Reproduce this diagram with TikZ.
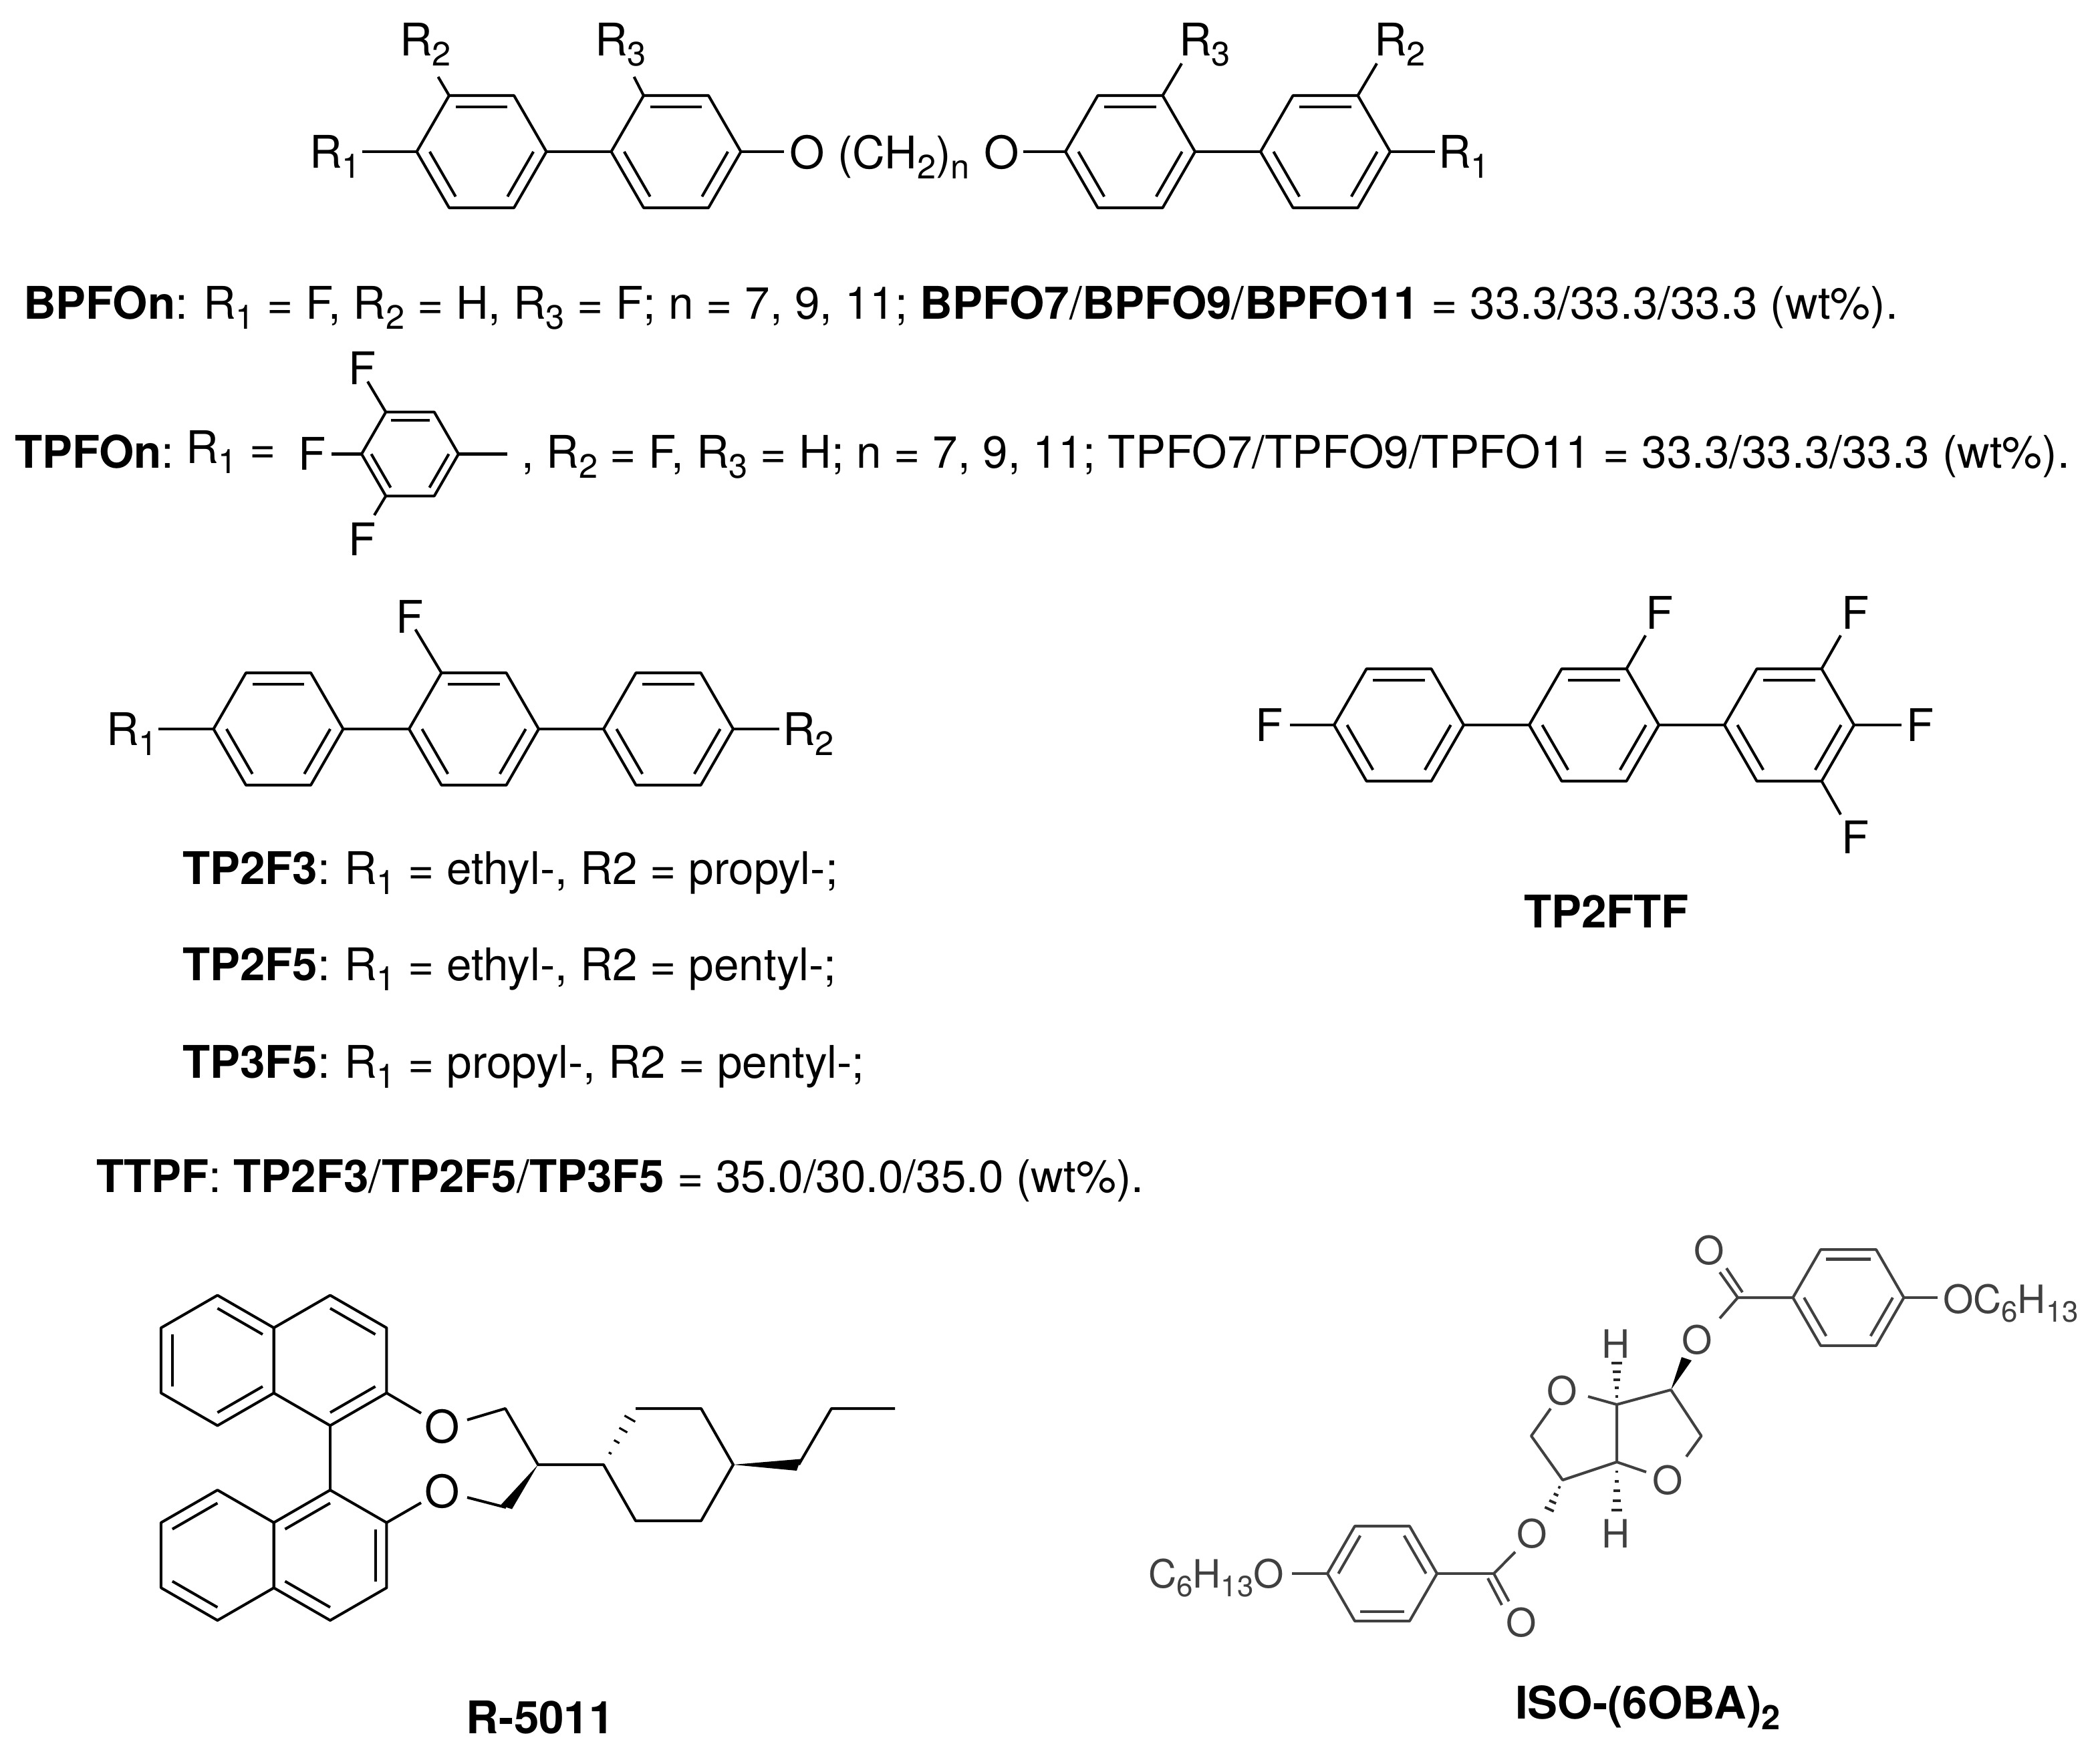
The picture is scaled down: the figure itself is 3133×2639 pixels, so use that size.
\documentclass[tikz,border=0pt]{standalone}
\usepackage{fontspec}
\setmainfont{TeX Gyre Heros}
\usetikzlibrary{calc}
\definecolor{isogray}{HTML}{404040}
\newcommand\subs[1]{\raisebox{-.45ex}{\scalebox{.75}{#1}}}
\tikzset{
  bond/.style={line width=1.15pt,draw=black,line join=round},
  wedge/.style={fill=black,draw=none},
  hashline/.style={line width=.9pt,draw=black},
  lab/.style={anchor=base west,inner sep=0pt,outer sep=0pt,font=\fontsize{19.15}{22}\selectfont,text=black},
  atom/.style={anchor=center,inner sep=0pt,outer sep=0pt,font=\fontsize{19.15}{22}\selectfont,text=black},
}
% name, cx, cy, r, rotation, list of doubled edges
\newcommand\hexa[6]{%
  \foreach \k in {0,...,5}{\coordinate (#1-\k) at ({#2+#4*cos(#5+60*\k)},{#3+#4*sin(#5+60*\k)});}
  \draw[bond] (#1-0)--(#1-1)--(#1-2)--(#1-3)--(#1-4)--(#1-5)--cycle;
  \foreach \k in {#6}{%
    \draw[bond] ({#2+.8*#4*cos(#5+60*\k)},{#3+.8*#4*sin(#5+60*\k)}) --
                ({#2+.8*#4*cos(#5+60*\k+60)},{#3+.8*#4*sin(#5+60*\k+60)});}%
}
% from, to, number of marks, largest half width in pt, fraction of bond used
\newcommand\hashb[5]{%
  \foreach \i in {1,...,#3}{%
    \pgfmathsetmacro\tt{#5*\i/#3}%
    \pgfmathsetmacro\hw{\tt*#4}%
    \coordinate (hm) at ($(#1)!\tt!(#2)$);
    \draw[hashline] ($(hm)!\hw pt!90:(#2)$) -- ($(hm)!\hw pt!-90:(#2)$);}%
}
\begin{document}
\begin{tikzpicture}[x=0.01cm,y=-0.01cm]
\useasboundingbox (0,0) rectangle (3133,2639);
\fill[white] (0,0) rectangle (3133,2639);

% ---------- top molecule
\hexa{ra}{720.5}{227}{97}{0}{0,2,4}
\hexa{rb}{1011.5}{227}{97}{0}{0,2,4}
\hexa{rc}{1691}{227}{97}{0}{0,2,4}
\hexa{rd}{1983}{227}{97}{0}{0,2,4}
\node[lab] (tR1) at (463,251) {R\subs{1}};
\node[lab] (tR2) at (598,83) {R\subs{2}};
\node[lab] (tR3) at (890,83) {R\subs{3}};
\node[lab] (tO1) at (1181,252) {O};
\node[lab] (tCH) at (1253,252) {(CH\subs{2})\subs{n}};
\node[lab] (tO2) at (1472,252) {O};
\node[lab] (tR3b) at (1764,83) {R\subs{3}};
\node[lab] (tR2b) at (2056,83) {R\subs{2}};
\node[lab] (tR1b) at (2152,251) {R\subs{1}};
\coordinate (e1) at (541.5,227);
\coordinate (e2) at (655.5,115);
\coordinate (e3) at (948.6,115);
\coordinate (e4) at (1173,227);
\coordinate (e5) at (1531,227);
\coordinate (e6) at (1768,95);
\coordinate (e7) at (2060,95);
\coordinate (e8) at (2147,227);
\draw[bond] (e1)--(ra-3);
\draw[bond] (ra-4)--(e2);
\draw[bond] (ra-0)--(rb-3);
\draw[bond] (rb-4)--(e3);
\draw[bond] (rb-0)--(e4);
\draw[bond] (e5)--(rc-3);
\draw[bond] (rc-5)--(e6);
\draw[bond] (rc-0)--(rd-3);
\draw[bond] (rd-5)--(e7);
\draw[bond] (rd-0)--(e8);

% ---------- text lines 1, 2
\node[lab] (l1) at (35,477) {\textbf{BPFOn}:\kern-.5pt{} R\subs{1} = F, R\subs{2} = H, R\subs{3} = F; n = 7, 9, 11; \textbf{BPFO7}/\textbf{BPFO9}/\textbf{BPFO11} = 33.3/33.3/33.3 (wt\%).};
\node[lab] (l2a) at (22,700) {\textbf{TPFOn}:};
\node[lab] (l2b) at (278,693) {R\subs{1} =};
\node[lab] (l2c) at (780,700) {, R\subs{2} = F, R\subs{3} = H; n = 7, 9, 11; TPFO7/TPFO9/TPFO11 = 33.3/33.3/33.3 (wt\%).};
\hexa{rt}{613.5}{679.5}{72.5}{0}{0,2,4}
\node[lab] (tF1) at (521,575) {F};
\node[lab] (tF2) at (446,703) {F};
\node[lab] (tF3) at (521,831) {F};
\coordinate (f1) at (550,571);
\coordinate (f2) at (496,679.5);
\coordinate (f3) at (560,771);
\coordinate (f4) at (759,679.5);
\draw[bond] (rt-4)--(f1);
\draw[bond] (rt-3)--(f2);
\draw[bond] (rt-2)--(f3);
\draw[bond] (rt-0)--(f4);

% ---------- TP structure
\hexa{pa}{416.5}{1091}{97}{0}{0,2,4}
\hexa{pb}{709}{1091}{97}{0}{0,2,4}
\hexa{pc}{1000}{1091}{97}{0}{0,2,4}
\node[lab] (pR1) at (159,1115) {R\subs{1}};
\node[lab] (pR2) at (1171,1115) {R\subs{2}};
\node[lab] (pF) at (592,947) {F};
\coordinate (p1) at (237,1091);
\coordinate (p2) at (1165.5,1091);
\coordinate (p3) at (621.5,942);
\draw[bond] (p1)--(pa-3);
\draw[bond] (pa-0)--(pb-3);
\draw[bond] (pb-0)--(pc-3);
\draw[bond] (pc-0)--(p2);
\draw[bond] (pb-4)--(p3);

\node[lab] (a1) at (273,1323) {\textbf{TP2F3}:\kern-1pt{} R\subs{1} = ethyl-, R2 = propyl-;};
\node[lab] (a2) at (273,1467) {\textbf{TP2F5}:\kern-1pt{} R\subs{1} = ethyl-, R2 = pentyl-;};
\node[lab] (a3) at (273,1613) {\textbf{TP3F5}:\kern-1pt{} R\subs{1} = propyl-, R2 = pentyl-;};
\node[lab] (a4) at (144,1784) {\textbf{TTPF}: \textbf{TP2F3}/\textbf{TP2F5}/\textbf{TP3F5} = 35.0/30.0/35.0 (wt\%).};

% ---------- TP2FTF
\hexa{qa}{2093}{1085}{97}{0}{0,2,4}
\hexa{qb}{2385}{1085}{97}{0}{0,2,4}
\hexa{qc}{2677}{1085}{97}{0}{0,2,4}
\node[lab] (qF1) at (1878,1109) {F};
\node[lab] (qF2) at (2462,941) {F};
\node[lab] (qF3) at (2755,941) {F};
\node[lab] (qF4) at (2852,1109) {F};
\node[lab] (qF5) at (2755,1277) {F};
\coordinate (q1) at (1930,1085);
\coordinate (q2) at (2462,951);
\coordinate (q3) at (2754,951);
\coordinate (q4) at (2845,1085);
\coordinate (q5) at (2754,1219);
\draw[bond] (q1)--(qa-3);
\draw[bond] (qa-0)--(qb-3);
\draw[bond] (qb-0)--(qc-3);
\draw[bond] (qb-5)--(q2);
\draw[bond] (qc-5)--(q3);
\draw[bond] (qc-0)--(q4);
\draw[bond] (qc-1)--(q5);
\node[lab] (capq) at (2280,1388) {\textbf{TP2FTF}};

% ---------- R-5011
\hexa{na}{325.4}{2036}{97.5}{30}{0,2,4}
\hexa{nb}{494}{2036}{97.5}{30}{0,4}
\hexa{nc}{325.4}{2327.5}{97.5}{30}{1,3}
\hexa{nd}{494}{2327.5}{97.5}{30}{1,3,5}
\node[atom] (rO1) at (662,2135) {O};
\node[atom] (rO2) at (662,2232) {O};
\coordinate (r1) at (630,2115);
\coordinate (r2) at (699,2125);
\coordinate (r3) at (756,2108);
\coordinate (r4) at (805,2192);
\coordinate (r5) at (903,2192);
\coordinate (r6) at (951,2276);
\coordinate (r7) at (1049,2276);
\coordinate (r8) at (1097,2192);
\coordinate (r9) at (1049,2108);
\coordinate (r10) at (951,2108);
\coordinate (r11) at (757,2256);
\coordinate (r12) at (699,2241);
\coordinate (r13) at (630,2249);
\coordinate (r14) at (1195,2192);
\coordinate (r15) at (1244,2108);
\coordinate (r16) at (1339,2108);
\draw[bond] (nb-1)--(nd-4);
\draw[bond] (nb-0)--(r1);
\draw[bond] (r2)--(r3)--(r4)--(r5)--(r6)--(r7)--(r8)--(r9)--(r10);
\fill[wedge] (r4)--(748.6,2253)--(766,2258.5)--cycle;
\draw[bond] (r11)--(r12);
\draw[bond] (nd-5)--(r13);
\hashb{r5}{r10}{4}{3.2}{.82}
\fill[wedge] (r8)--(1198,2183.5)--(1192,2201)--cycle;
\draw[bond] (r14)--(r15)--(r16);
\node[lab] (capr) at (697,2594) {\textbf{R-5011}};

% ---------- ISO-(6OBA)2
\begin{scope}[bond/.style={line width=1.15pt,draw=isogray,line join=round},
              wedge/.style={fill=black,draw=none},
              hashline/.style={line width=1.1pt,draw=black!85},
              atom/.style={anchor=center,inner sep=0pt,outer sep=0pt,font=\fontsize{16.6}{20}\selectfont,text=isogray},
              lab/.style={anchor=base west,inner sep=0pt,outer sep=0pt,font=\fontsize{16.6}{20}\selectfont,text=isogray}]
\hexa{ia}{2765.5}{1942}{83}{0}{0,2,4}
\hexa{ib}{2068}{2355}{82}{0}{1,3,5}
\node[lab] (iR1) at (2907,1965) {OC\subs{6}H\subs{13}};
\node[lab] (iR2) at (1718,2376) {C\subs{6}H\subs{13}O};
\node[atom] (iO1) at (2557,1871) {O};
\node[atom] (iO2) at (2539,2005) {O};
\node[atom] (iO3) at (2337,2081) {O};
\node[atom] (iO4) at (2495,2215) {O};
\node[atom] (iO5) at (2292,2295.5) {O};
\node[atom] (iO6) at (2276,2428) {O};
\node[atom] (iH1) at (2417.5,2011) {H};
\node[atom] (iH2) at (2417.5,2295.5) {H};
\coordinate (c1) at (2600,1942);
\coordinate (c2) at (2573,1904);
\coordinate (c2b) at (2583,1898);
\coordinate (c2c) at (2607,1934);
\coordinate (c3) at (2573,1973);
\coordinate (c4) at (2500,2080);
\coordinate (c5) at (2545.5,2149);
\coordinate (c6) at (2523,2180);
\coordinate (c7) at (2463,2203);
\coordinate (c8) at (2419,2188);
\coordinate (c9) at (2419,2102);
\coordinate (c10) at (2376,2090);
\coordinate (c11) at (2320,2108);
\coordinate (c12) at (2291,2149);
\coordinate (c13) at (2338,2215);
\coordinate (c14) at (2419,2037);
\coordinate (c15) at (2419,2264);
\coordinate (c16) at (2317,2261);
\coordinate (c17) at (2267,2322.6);
\coordinate (c18) at (2235,2355);
\coordinate (c19) at (2257.6,2396.5);
\coordinate (c19b) at (2247,2402);
\coordinate (c19c) at (2226,2362);
\coordinate (c20) at (2899,1942);
\coordinate (c21) at (1933,2355);
\draw[bond] (c2)--(c1)--(ia-3);
\draw[bond] (c2b)--(c2c);
\draw[bond] (c1)--(c3);
\draw[bond] (ia-0)--(c20);
\fill[wedge] (c4)--(2516,2031)--(2531,2036)--cycle;
\draw[bond] (c4)--(c5)--(c6);
\draw[bond] (c7)--(c8)--(c9)--(c4);
\draw[bond] (c9)--(c10);
\draw[bond] (c11)--(c12)--(c13)--(c8);
\hashb{c9}{c14}{5}{2.4}{.95}
\hashb{c8}{c15}{5}{2.4}{.95}
\hashb{c13}{c16}{4}{2.2}{.95}
\draw[bond] (c17)--(c18)--(c19);
\draw[bond] (c19b)--(c19c);
\draw[bond] (c18)--(ib-0);
\draw[bond] (ib-3)--(c21);
\end{scope}
\node[lab] (capi) at (2267,2572) {\textbf{ISO-(6OBA)\subs{2}}};
\end{tikzpicture}
\end{document}
